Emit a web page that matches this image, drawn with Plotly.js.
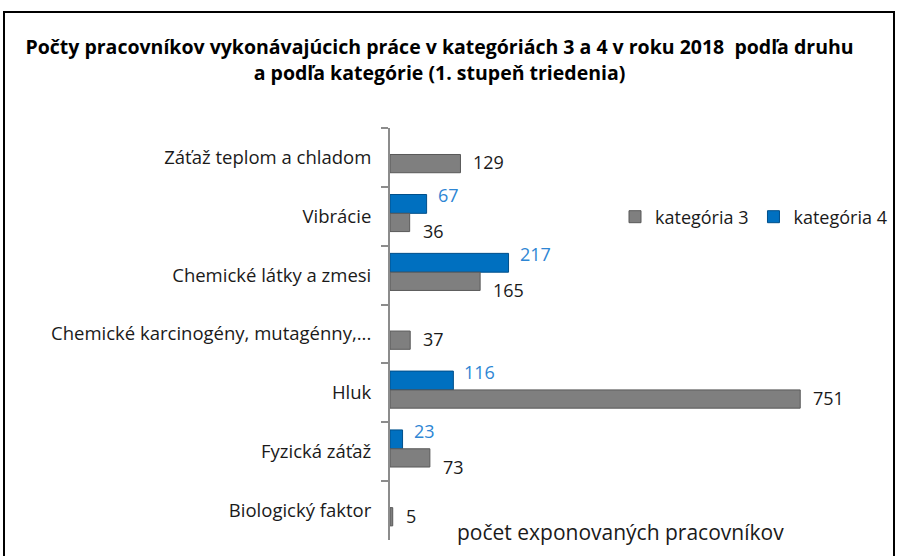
<!DOCTYPE html>
<html><head><meta charset="utf-8">
<script src="https://cdn.plot.ly/plotly-3.0.1.min.js"></script>
<style>
html,body{margin:0;padding:0;background:#fff;}
#chart{width:897px;height:556px;position:absolute;left:0;top:0;}
#frame{position:absolute;left:3px;top:11px;width:888px;height:560px;border:2px solid #000;pointer-events:none;}
</style></head>
<body>
<div id="chart"></div>
<div id="frame"></div>
<script>
const categories = ["Záťaž teplom a chladom","Vibrácie","Chemické látky a zmesi","Chemické karcinogény, mutagénny,...","Hluk","Fyzická záťaž","Biologický faktor"];
const kat3 = [129, 36, 165, 37, 751, 73, 5];
const kat4 = [null, 67, 217, null, 116, 23, null];
const seriesNames = ["kategória 3","kategória 4"];
const titleText = "Počty pracovníkov vykonávajúcich práce v kategóriách 3 a 4 v roku 2018  podľa druhu<br>a podľa kategórie (1. stupeň triedenia)";
const axisTitle = "počet exponovaných pracovníkov";

const font = "Open Sans, Liberation Sans, Arial, sans-serif";
const traces = [
  {type:"bar", orientation:"h", name:seriesNames[1], y:categories, x:kat4,
   offset:-0.37, width:0.32,
   marker:{color:"#0070c0", line:{color:"#004f8a", width:1}}, hoverinfo:"x+name"},
  {type:"bar", orientation:"h", name:seriesNames[0], y:categories, x:kat3,
   offset:-0.05, width:0.31,
   marker:{color:"#7f7f7f", line:{color:"#595959", width:1}}, hoverinfo:"x+name"}
];

// value labels (placed at each bar's value; shifted apart when two labels would collide)
const annotations = [];
categories.forEach((c, i) => {
  const both = kat4[i] != null;
  if (both) {
    annotations.push({x:kat4[i], y:c, xref:"x", yref:"y", text:String(kat4[i]), showarrow:false,
      xanchor:"left", yanchor:"middle", xshift:9, yshift:21,
      font:{size:18, family:font, color:"#2e86d4"}});
  }
  const pushDown = both && Math.abs(kat3[i] - kat4[i]) < 300;
  annotations.push({x:kat3[i], y:c, xref:"x", yref:"y", text:String(kat3[i]), showarrow:false,
    xanchor:"left", yanchor:"middle", xshift:11, yshift: pushDown ? -15 : -5,
    font:{size:18, family:font, color:"#1a1a1a"}});
});
annotations.push({text:axisTitle, xref:"paper", yref:"paper", x:0.46, y:0.019, xanchor:"center", yanchor:"middle",
  showarrow:false, font:{size:21, family:font, color:"#1a1a1a"}});

const layout = {
  width:897, height:556,
  margin:{l:390, r:5, t:128, b:16},
  paper_bgcolor:"#fff", plot_bgcolor:"#fff",
  font:{family:font, color:"#1a1a1a"},
  title:{text:titleText, x:0.49, xanchor:"center", y:0.902, yanchor:"middle",
         font:{size:19.5, family:font, color:"#000", weight:"bold"}},
  barmode:"group",
  xaxis:{range:[0,919], showticklabels:false, showgrid:false, zeroline:false, showline:false, ticks:"", automargin:false},
  yaxis:{autorange:"reversed", showline:true, linecolor:"#8c8c8c", linewidth:2,
         ticks:"outside", ticklen:7, tickcolor:"#8c8c8c", tickwidth:2, tickson:"boundaries",
         showgrid:false, tickfont:{size:18.5, family:font, color:"#1a1a1a"}, ticklabelstandoff:13},
  showlegend:true,
  legend:{orientation:"h", traceorder:"reversed", x:1, xanchor:"right", y:0.784, yanchor:"middle",
          font:{size:18, family:font, color:"#1a1a1a"}, itemwidth:30},
  annotations:annotations
};
Plotly.newPlot("chart", traces, layout, {staticPlot:true});
</script>
</body></html>
